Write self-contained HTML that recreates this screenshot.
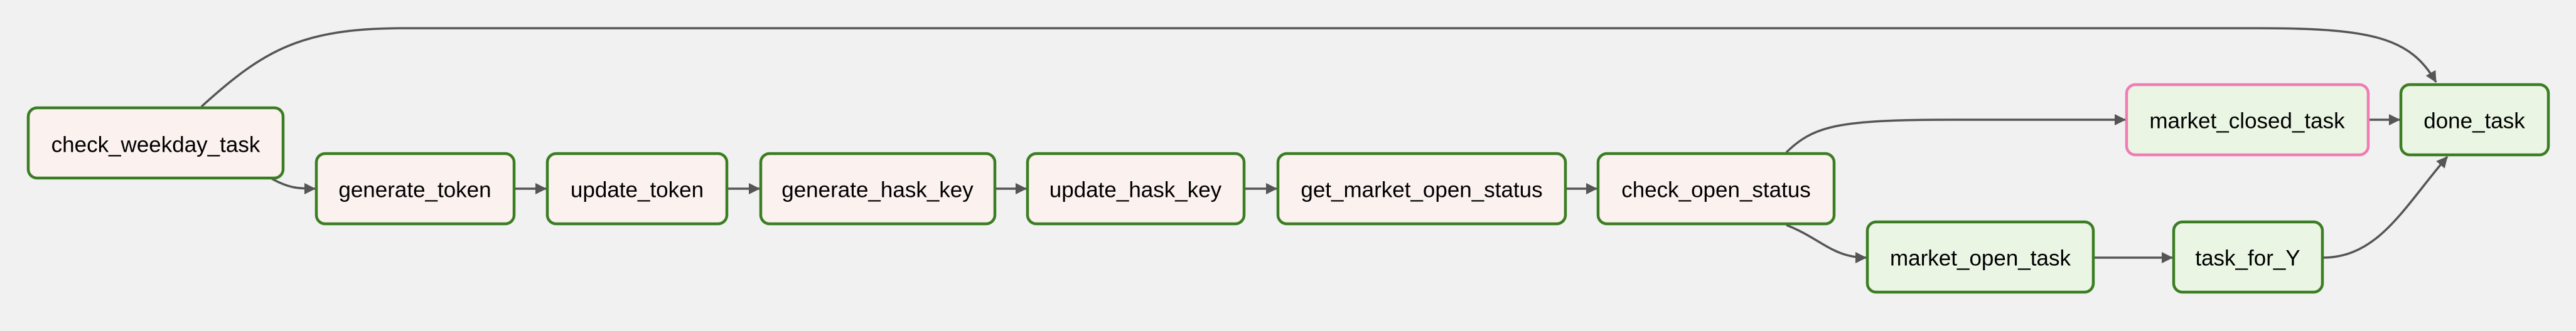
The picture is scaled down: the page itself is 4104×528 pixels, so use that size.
<!DOCTYPE html>
<html><head><meta charset="utf-8"><style>
html,body{margin:0;padding:0;background:#f1f1f1;}
svg{display:block;}
text{font-family:"Liberation Sans",Arial,sans-serif;font-size:35px;fill:#000;text-anchor:middle;dominant-baseline:central;}
.g{stroke:#3b7d23;stroke-width:4.5;}
.p{stroke:#f07cb3;stroke-width:4.5;}
.r{fill:#fbf1ee;}
.s{fill:#eaf5e4;}
.e{fill:none;stroke:#555;stroke-width:3.5;}
</style></head><body>
<svg width="4104" height="528" viewBox="0 0 4104 528" xmlns="http://www.w3.org/2000/svg">
<defs><marker id="a" markerWidth="18" markerHeight="18" refX="17" refY="9" orient="auto" markerUnits="userSpaceOnUse"><path d="M0,0 L18,9 L0,18 Z" fill="#555"/></marker></defs>
<path class="e" marker-end="url(#a)" d="M321,170 C420,80 480,45 643,45 L3598,45 C3780,45 3840,60 3881,131"/>
<path class="e" marker-end="url(#a)" d="M433,285 C460,300 475,301 502,301"/>
<path class="e" marker-end="url(#a)" d="M819,301 L870,301"/>
<path class="e" marker-end="url(#a)" d="M1158,301 L1210,301"/>
<path class="e" marker-end="url(#a)" d="M1585,301 L1635,301"/>
<path class="e" marker-end="url(#a)" d="M1982,301 L2034,301"/>
<path class="e" marker-end="url(#a)" d="M2494,301 L2544,301"/>
<path class="e" marker-end="url(#a)" d="M2846,243 C2890,200 2930,191 3110,191 L3386,191"/>
<path class="e" marker-end="url(#a)" d="M2846,359 C2900,380 2920,411 2973,411"/>
<path class="e" marker-end="url(#a)" d="M3335,411 L3461,411"/>
<path class="e" marker-end="url(#a)" d="M3773,191 L3823,191"/>
<path class="e" marker-end="url(#a)" d="M3700,411 C3790,411 3830,330 3899,250"/>
<rect class="g r" x="45" y="172" width="406" height="112" rx="14"/><text x="248" y="231">check_weekday_task</text>
<rect class="g r" x="504" y="245" width="315" height="112" rx="14"/><text x="661" y="303">generate_token</text>
<rect class="g r" x="872" y="245" width="286" height="112" rx="14"/><text x="1015" y="303">update_token</text>
<rect class="g r" x="1212" y="245" width="373" height="112" rx="14"/><text x="1398" y="303">generate_hask_key</text>
<rect class="g r" x="1637" y="245" width="345" height="112" rx="14"/><text x="1809" y="303">update_hask_key</text>
<rect class="g r" x="2036" y="245" width="458" height="112" rx="14"/><text x="2265" y="303">get_market_open_status</text>
<rect class="g r" x="2546" y="245" width="376" height="112" rx="14"/><text x="2734" y="303">check_open_status</text>
<rect class="p s" x="3388" y="135" width="385" height="112" rx="14"/><text x="3580" y="193">market_closed_task</text>
<rect class="g s" x="3825" y="135" width="235" height="112" rx="14"/><text x="3942" y="193">done_task</text>
<rect class="g s" x="2975" y="354" width="360" height="112" rx="14"/><text x="3155" y="412">market_open_task</text>
<rect class="g s" x="3463" y="354" width="237" height="112" rx="14"/><text x="3581" y="412">task_for_Y</text>
</svg>
</body></html>
